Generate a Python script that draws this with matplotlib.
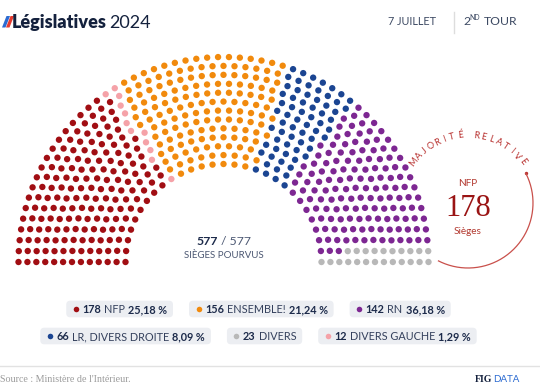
import matplotlib
matplotlib.use("Agg")
import matplotlib.pyplot as plt
import numpy as np
from matplotlib.patches import FancyBboxPatch, Polygon

# seats in the hemicycle, left to right
parties = ["NFP", "DIVERS GAUCHE", "ENSEMBLE!", "LR, DIVERS DROITE", "RN", "DIVERS"]
seats = [178, 12, 156, 66, 142, 23]
shares = ["25,18 %", "1,29 %", "21,24 %", "8,09 %", "36,18 %", ""]
colors = ["#a10e13", "#f5a2a8", "#f18a0d", "#1b4592", "#7d2792", "#b8b8b8"]

# legend order (indexes into parties)
legend_rows = [[0, 2, 4], [3, 5, 1]]

NAVY = "#1c2a4a"
GREY_TXT = "#4b5772"
RED = "#b8312f"
SANS = ["Lato", "DejaVu Sans"]
SERIF = ["Liberation Serif", "DejaVu Serif"]

fig = plt.figure(figsize=(5.4, 3.92), dpi=100)
ax = fig.add_axes([0, 0, 1, 1])
ax.set_xlim(0, 540)
ax.set_ylim(392, 0)
ax.axis("off")

# ---- hemicycle
n_rows = 13
cx, cy = 223.5, 262
radii = np.linspace(98, 205, n_rows)
total = sum(seats)
raw = total * radii / radii.sum()
per_row = np.floor(raw).astype(int)
rest = total - per_row.sum()
per_row[np.argsort(raw - per_row)[::-1][:rest]] += 1

ang, rad = [], []
for r, n in zip(radii, per_row):
    a = np.linspace(np.pi, 0, n)
    ang.extend(a)
    rad.extend([r] * n)
ang = np.array(ang)
rad = np.array(rad)
order = np.lexsort((rad, -ang))
seat_colors = np.repeat(colors, seats)
xs = cx + rad[order] * np.cos(ang[order])
ys = cy - rad[order] * np.sin(ang[order])
ax.scatter(xs, ys, s=21, c=seat_colors, linewidths=0, zorder=3)

# ---- centre text
ax.text(218, 245, "577", fontsize=8.8, fontweight="bold", color=NAVY,
        ha="right", va="baseline", family=SANS)
ax.text(221, 245, "/ 577", fontsize=8.8, color=GREY_TXT,
        ha="left", va="baseline", family=SANS)
ax.text(224, 258, "SIÈGES POURVUS", fontsize=7, color=GREY_TXT,
        ha="center", va="baseline", family=SANS)

# ---- majority circle
ccx, ccy, cr = 468, 203, 65
th = np.radians(np.linspace(27, -117, 200))
ax.plot(ccx + cr * np.cos(th), ccy - cr * np.sin(th), color="#c9504b", lw=0.9)
ax.scatter([ccx + cr * np.cos(np.radians(27))], [ccy - cr * np.sin(np.radians(27))],
           s=6, color=RED, linewidths=0)
label = "MAJORITÉ RELATIVE"
for i, ch in enumerate(label):
    t = np.radians(143 - i * (143 - 37) / (len(label) - 1))
    ax.text(ccx + 68 * np.cos(t), ccy - 68 * np.sin(t), ch, fontsize=6.6,
            color=RED, ha="center", va="center", rotation=np.degrees(t) - 90,
            rotation_mode="anchor", family=SANS)
ax.text(ccx, 183, "NFP", fontsize=7.2, color="#b33a31", ha="center", va="center", family=SANS)
ax.text(ccx, 208, str(seats[0]), fontsize=22, color="#9a1414", ha="center",
        va="center", family=SERIF)
ax.text(ccx, 231, "Sièges", fontsize=7.2, color="#b33a31", ha="center", va="center", family=SANS)

# ---- header
ax.add_patch(Polygon([(2, 27.5), (5.5, 27.5), (10, 16), (6.5, 16)], closed=True,
                     color="#2c6bd1", lw=0))
ax.add_patch(Polygon([(6, 27.5), (9.5, 27.5), (14, 16), (10.5, 16)], closed=True,
                     color="#e53b30", lw=0))
t1 = ax.text(11.5, 27.5, "Législatives", fontsize=13, fontweight="heavy",
             color="#14213d", va="baseline", family=SANS)
fig.canvas.draw()
renderer = fig.canvas.get_renderer()
w1 = t1.get_window_extent(renderer).width
ax.text(11.5 + w1 + 3, 27.5, "2024", fontsize=13, color="#14213d",
        va="baseline", family=SANS)
ax.text(388, 25, "7 JUILLET", fontsize=7.8, color="#3d4a63", va="baseline", family=SANS)
ax.plot([454, 454], [12, 33], color="#dddddd", lw=1)
ax.text(463, 25, "2", fontsize=8.8, color="#3d4a63", va="baseline", family=SANS)
ax.text(469.5, 20, "ND", fontsize=5, color="#3d4a63", va="baseline", family=SANS)
ax.text(517, 25, "TOUR", fontsize=8.8, color="#3d4a63", ha="right", va="baseline", family=SANS)


# ---- legend pills
def width_of(s, **kw):
    t = ax.text(0, 0, s, **kw)
    w = t.get_window_extent(renderer).width
    t.remove()
    return w


num_kw = dict(fontsize=7.8, fontweight="bold", color=NAVY, family=SANS)
lab_kw = dict(fontsize=7.8, color="#34405c", family=SANS)
row_y = [309, 336]
gap = 16
for row, yc in zip(legend_rows, row_y):
    items = []
    for k in row:
        segs = [(str(seats[k]), num_kw), (parties[k], lab_kw)]
        if shares[k]:
            segs.append((shares[k], num_kw))
        ws = [width_of(s, **kw) for s, kw in segs]
        width = 7 + 5 + 4 + sum(ws) + 3 * (len(ws) - 1) + 6
        items.append((k, segs, ws, width))
    row_w = sum(it[3] for it in items) + gap * (len(items) - 1)
    x0 = 258.5 - row_w / 2
    for k, segs, ws, width in items:
        ax.add_patch(FancyBboxPatch((x0, yc - 8.3), width, 16.6,
                                    boxstyle="round,pad=0,rounding_size=4",
                                    fc="#eceef2", ec="none", zorder=1))
        ax.scatter([x0 + 9.5], [yc], s=16, color=colors[k], linewidths=0, zorder=2)
        xt = x0 + 16
        for (s, kw), w in zip(segs, ws):
            ax.text(xt, yc + 0.5, s, ha="left", va="center", zorder=2, **kw)
            xt += w + 3
        x0 += width + gap

# ---- footer
ax.plot([0, 540], [366, 366], color="#e2e2e2", lw=1)
ax.text(0, 379, "Source : Ministère de l'Intérieur.", fontsize=7.2, color="#9c9c9c",
        va="center", family=SERIF)
tdata = ax.text(519, 379, "DATA", fontsize=7, color="#2c6bd1", ha="right",
                va="center", family=SANS)
wd = tdata.get_window_extent(renderer).width
ax.text(519 - wd, 379, "FIG", fontsize=7, fontweight="heavy", color="#14213d",
        ha="right", va="center", family=SERIF)

fig.savefig("out.png", dpi=100)
